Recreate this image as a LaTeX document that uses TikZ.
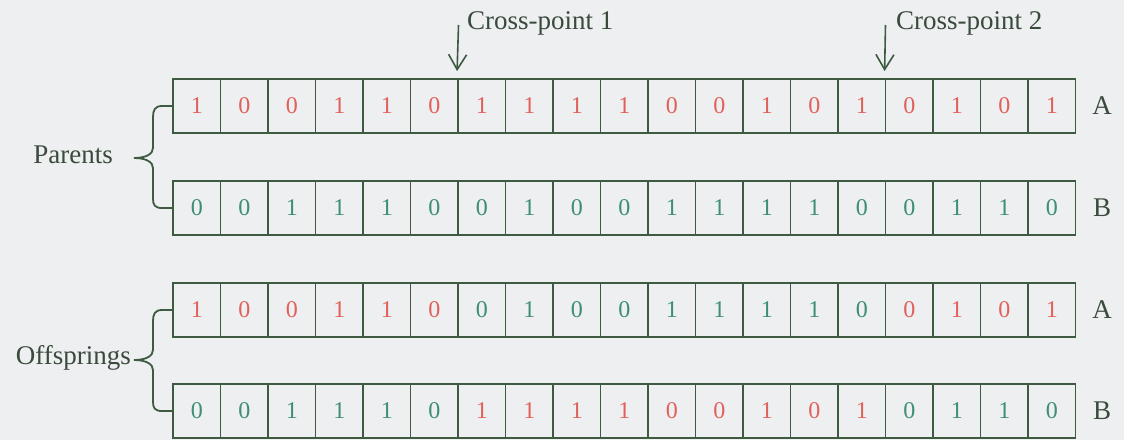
\documentclass[tikz,border=0pt]{standalone}
\usepackage{fontspec}
\setmainfont{Liberation Serif}
\usetikzlibrary{arrows.meta}
\definecolor{bgc}{HTML}{EDEFF1}
\definecolor{linec}{HTML}{3E5A40}
\definecolor{txtc}{HTML}{3A4A3C}
\definecolor{rr}{HTML}{E2605A}
\definecolor{gg}{HTML}{3E8E76}
\tikzset{
  cell/.style={draw=linec, line width=1.8pt, minimum width=47.5pt, minimum height=54pt, inner sep=0pt, font=\fontsize{24}{28}\selectfont},
  lbl/.style={text=txtc, font=\fontsize{27}{32}\selectfont, inner sep=0pt},
  brc/.style={draw=linec, line width=1.8pt},
  cparrow/.style={draw=linec, line width=1.6pt, -{Straight Barb[length=15pt,width=18pt,line width=1.6pt]}}
}
\newcommand\bitrow[3]{%
  \foreach \v/\c [count=\i] in {#3} {%
    \node[cell, text=\c] (#1c\i) at ({173+47.5*(\i-0.5)},#2) {\v};
  }%
}
\begin{document}
\begin{tikzpicture}[x=1pt,y=-1pt]
\fill[bgc] (0,0) rectangle (1124,440);
\useasboundingbox (0,0) rectangle (1124,440);
\bitrow{a}{106}{1/rr,0/rr,0/rr,1/rr,1/rr,0/rr,1/rr,1/rr,1/rr,1/rr,0/rr,0/rr,1/rr,0/rr,1/rr,0/rr,1/rr,0/rr,1/rr}
\bitrow{b}{208}{0/gg,0/gg,1/gg,1/gg,1/gg,0/gg,0/gg,1/gg,0/gg,0/gg,1/gg,1/gg,1/gg,1/gg,0/gg,0/gg,1/gg,1/gg,0/gg}
\bitrow{c}{310}{1/rr,0/rr,0/rr,1/rr,1/rr,0/rr,0/gg,1/gg,0/gg,0/gg,1/gg,1/gg,1/gg,1/gg,0/gg,0/rr,1/rr,0/rr,1/rr}
\bitrow{d}{411}{0/gg,0/gg,1/gg,1/gg,1/gg,0/gg,1/rr,1/rr,1/rr,1/rr,0/rr,0/rr,1/rr,0/rr,1/rr,0/gg,1/gg,1/gg,0/gg}
% row labels
\node[lbl] (la) at (1102,106) {A};
\node[lbl] (lb) at (1102,208) {B};
\node[lbl] (lc) at (1102,310) {A};
\node[lbl] (ld) at (1102,411) {B};
% cross points
\coordinate (cp1) at (458.5,25);
\coordinate (cp2) at (885.5,25);
\draw[cparrow] (cp1) -- ([yshift=7pt]ac7.north west);
\draw[cparrow] (cp2) -- ([yshift=7pt]ac16.north west);
\node[lbl, anchor=base west] (t1) at (467,29) {Cross-point 1};
\node[lbl, anchor=base west] (t2) at (896,29) {Cross-point 2};
% braces
\node[lbl, anchor=base east] (par) at (113,163) {Parents};
\node[lbl, anchor=base east] (off) at (131,364) {Offsprings};
\draw[brc] (ac1.west) -- (162,106) .. controls (155,106) and (153,110) .. (153,117)
  -- (153,148) .. controls (153,154) and (146,158) .. (134,158)
  .. controls (146,158) and (153,162) .. (153,168)
  -- (153,199) .. controls (153,205) and (155,208) .. (162,208) -- (bc1.west);
\draw[brc] (cc1.west) -- (162,310) .. controls (155,310) and (153,314) .. (153,321)
  -- (153,350) .. controls (153,356) and (146,360) .. (134,360)
  .. controls (146,360) and (153,364) .. (153,370)
  -- (153,402) .. controls (153,408) and (155,411) .. (162,411) -- (dc1.west);
\end{tikzpicture}
\end{document}
